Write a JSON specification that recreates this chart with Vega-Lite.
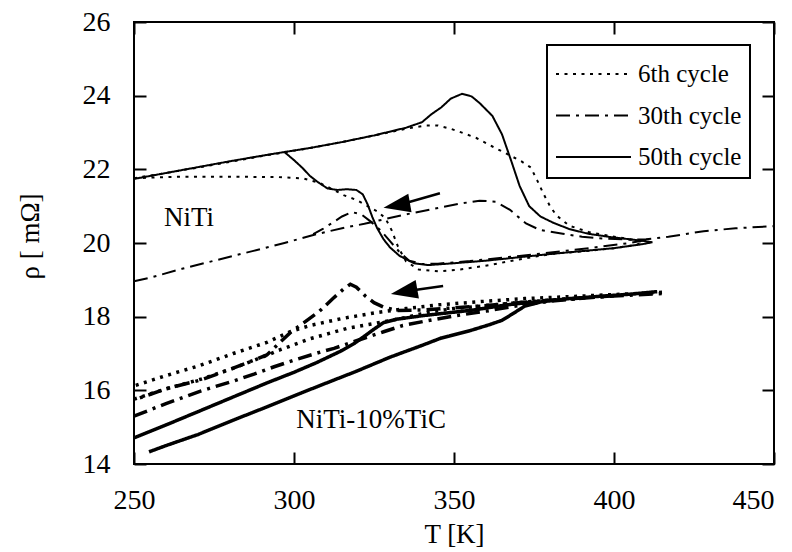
{
  "$schema": "https://vega.github.io/schema/vega-lite/v6.json",
  "autosize": {"type": "none"},
  "width": 640,
  "height": 442,
  "padding": {"left": 134, "top": 22, "right": 18, "bottom": 88},
  "background": "white",
  "config": {
    "view": {"stroke": "black", "strokeWidth": 2},
    "font": "Liberation Serif",
    "axis": {"grid": false, "domain": false, "tickColor": "black", "tickWidth": 2, "labelColor": "black", "titleColor": "black", "labelFont": "Liberation Serif", "titleFont": "Liberation Serif", "titleFontWeight": "normal", "labelFlush": false, "labelOverlap": false},
    "legend": {"strokeWidth": 2, "labelFont": "Liberation Serif"}
  },
  "datasets": {
    "curves": [
      {"s":"NiTi","c":"50th cycle","b":"a","i":1,"T":250,"r":21.74},{"s":"NiTi","c":"50th cycle","b":"a","i":2,"T":260,"r":21.9},{"s":"NiTi","c":"50th cycle","b":"a","i":3,"T":270,"r":22.06},{"s":"NiTi","c":"50th cycle","b":"a","i":4,"T":280,"r":22.22},{"s":"NiTi","c":"50th cycle","b":"a","i":5,"T":290,"r":22.37},{"s":"NiTi","c":"50th cycle","b":"a","i":6,"T":297,"r":22.47},{"s":"NiTi","c":"50th cycle","b":"a","i":7,"T":305,"r":22.58},{"s":"NiTi","c":"50th cycle","b":"a","i":8,"T":315,"r":22.74},{"s":"NiTi","c":"50th cycle","b":"a","i":9,"T":325,"r":22.92},{"s":"NiTi","c":"50th cycle","b":"a","i":10,"T":335,"r":23.13},{"s":"NiTi","c":"50th cycle","b":"a","i":11,"T":340,"r":23.28},{"s":"NiTi","c":"50th cycle","b":"a","i":12,"T":343,"r":23.5},{"s":"NiTi","c":"50th cycle","b":"a","i":13,"T":346,"r":23.68},{"s":"NiTi","c":"50th cycle","b":"a","i":14,"T":349,"r":23.92},{"s":"NiTi","c":"50th cycle","b":"a","i":15,"T":352.5,"r":24.05},{"s":"NiTi","c":"50th cycle","b":"a","i":16,"T":355.5,"r":23.98},{"s":"NiTi","c":"50th cycle","b":"a","i":17,"T":358,"r":23.8},{"s":"NiTi","c":"50th cycle","b":"a","i":18,"T":362,"r":23.45},{"s":"NiTi","c":"50th cycle","b":"a","i":19,"T":365,"r":22.95},{"s":"NiTi","c":"50th cycle","b":"a","i":20,"T":368,"r":22.2},{"s":"NiTi","c":"50th cycle","b":"a","i":21,"T":370.5,"r":21.55},{"s":"NiTi","c":"50th cycle","b":"a","i":22,"T":373.5,"r":21.0},{"s":"NiTi","c":"50th cycle","b":"a","i":23,"T":377,"r":20.72},{"s":"NiTi","c":"50th cycle","b":"a","i":24,"T":381,"r":20.55},{"s":"NiTi","c":"50th cycle","b":"a","i":25,"T":386,"r":20.38},{"s":"NiTi","c":"50th cycle","b":"a","i":26,"T":392,"r":20.25},{"s":"NiTi","c":"50th cycle","b":"a","i":27,"T":399,"r":20.16},{"s":"NiTi","c":"50th cycle","b":"a","i":28,"T":405,"r":20.1},{"s":"NiTi","c":"50th cycle","b":"a","i":29,"T":409,"r":20.06},{"s":"NiTi","c":"50th cycle","b":"a","i":30,"T":412,"r":20.02},{"s":"NiTi","c":"50th cycle","b":"a","i":31,"T":409,"r":19.97},{"s":"NiTi","c":"50th cycle","b":"a","i":32,"T":400,"r":19.86},{"s":"NiTi","c":"50th cycle","b":"a","i":33,"T":390,"r":19.78},{"s":"NiTi","c":"50th cycle","b":"a","i":34,"T":380,"r":19.7},{"s":"NiTi","c":"50th cycle","b":"a","i":35,"T":370,"r":19.61},{"s":"NiTi","c":"50th cycle","b":"a","i":36,"T":360,"r":19.52},{"s":"NiTi","c":"50th cycle","b":"a","i":37,"T":350,"r":19.45},{"s":"NiTi","c":"50th cycle","b":"a","i":38,"T":342,"r":19.4},{"s":"NiTi","c":"50th cycle","b":"a","i":39,"T":337.5,"r":19.45},{"s":"NiTi","c":"50th cycle","b":"a","i":40,"T":333,"r":19.65},{"s":"NiTi","c":"50th cycle","b":"a","i":41,"T":330,"r":19.88},{"s":"NiTi","c":"50th cycle","b":"a","i":42,"T":328,"r":20.1},{"s":"NiTi","c":"50th cycle","b":"a","i":43,"T":326,"r":20.4},{"s":"NiTi","c":"50th cycle","b":"a","i":44,"T":324.5,"r":20.7},{"s":"NiTi","c":"50th cycle","b":"a","i":45,"T":323,"r":21.05},{"s":"NiTi","c":"50th cycle","b":"a","i":46,"T":321.5,"r":21.32},{"s":"NiTi","c":"50th cycle","b":"a","i":47,"T":319.5,"r":21.44},{"s":"NiTi","c":"50th cycle","b":"a","i":48,"T":316.5,"r":21.46},{"s":"NiTi","c":"50th cycle","b":"a","i":49,"T":313.5,"r":21.44},{"s":"NiTi","c":"50th cycle","b":"a","i":50,"T":310.5,"r":21.48},{"s":"NiTi","c":"50th cycle","b":"a","i":51,"T":307.5,"r":21.65},{"s":"NiTi","c":"50th cycle","b":"a","i":52,"T":305,"r":21.82},{"s":"NiTi","c":"50th cycle","b":"a","i":53,"T":302.5,"r":22.05},{"s":"NiTi","c":"50th cycle","b":"a","i":54,"T":300,"r":22.25},{"s":"NiTi","c":"50th cycle","b":"a","i":55,"T":297,"r":22.47},

      {"s":"NiTi","c":"6th cycle","b":"a","i":1,"T":250,"r":21.76},{"s":"NiTi","c":"6th cycle","b":"a","i":2,"T":260,"r":21.9},{"s":"NiTi","c":"6th cycle","b":"a","i":3,"T":270,"r":22.05},{"s":"NiTi","c":"6th cycle","b":"a","i":4,"T":280,"r":22.2},{"s":"NiTi","c":"6th cycle","b":"a","i":5,"T":290,"r":22.36},{"s":"NiTi","c":"6th cycle","b":"a","i":6,"T":297,"r":22.46},{"s":"NiTi","c":"6th cycle","b":"a","i":7,"T":305,"r":22.58},{"s":"NiTi","c":"6th cycle","b":"a","i":8,"T":315,"r":22.74},{"s":"NiTi","c":"6th cycle","b":"a","i":9,"T":325,"r":22.92},{"s":"NiTi","c":"6th cycle","b":"a","i":10,"T":335,"r":23.1},{"s":"NiTi","c":"6th cycle","b":"a","i":11,"T":341,"r":23.19},{"s":"NiTi","c":"6th cycle","b":"a","i":12,"T":345,"r":23.19},{"s":"NiTi","c":"6th cycle","b":"a","i":13,"T":349,"r":23.1},{"s":"NiTi","c":"6th cycle","b":"a","i":14,"T":353,"r":22.98},{"s":"NiTi","c":"6th cycle","b":"a","i":15,"T":357,"r":22.85},{"s":"NiTi","c":"6th cycle","b":"a","i":16,"T":362,"r":22.62},{"s":"NiTi","c":"6th cycle","b":"a","i":17,"T":367,"r":22.4},{"s":"NiTi","c":"6th cycle","b":"a","i":18,"T":371,"r":22.22},{"s":"NiTi","c":"6th cycle","b":"a","i":19,"T":374,"r":22.05},{"s":"NiTi","c":"6th cycle","b":"a","i":20,"T":376,"r":21.7},{"s":"NiTi","c":"6th cycle","b":"a","i":21,"T":378,"r":21.33},{"s":"NiTi","c":"6th cycle","b":"a","i":22,"T":380,"r":21.0},{"s":"NiTi","c":"6th cycle","b":"a","i":23,"T":382,"r":20.75},{"s":"NiTi","c":"6th cycle","b":"a","i":24,"T":386,"r":20.47},{"s":"NiTi","c":"6th cycle","b":"a","i":25,"T":392,"r":20.3},{"s":"NiTi","c":"6th cycle","b":"a","i":26,"T":398,"r":20.2},{"s":"NiTi","c":"6th cycle","b":"a","i":27,"T":404,"r":20.12},{"s":"NiTi","c":"6th cycle","b":"a","i":28,"T":409,"r":20.03},{"s":"NiTi","c":"6th cycle","b":"a","i":29,"T":407,"r":19.95},{"s":"NiTi","c":"6th cycle","b":"a","i":30,"T":400,"r":19.86},{"s":"NiTi","c":"6th cycle","b":"a","i":31,"T":390,"r":19.77},{"s":"NiTi","c":"6th cycle","b":"a","i":32,"T":381,"r":19.71},{"s":"NiTi","c":"6th cycle","b":"a","i":33,"T":370,"r":19.55},{"s":"NiTi","c":"6th cycle","b":"a","i":34,"T":361,"r":19.4},{"s":"NiTi","c":"6th cycle","b":"a","i":35,"T":352,"r":19.28},{"s":"NiTi","c":"6th cycle","b":"a","i":36,"T":345,"r":19.23},{"s":"NiTi","c":"6th cycle","b":"a","i":37,"T":339,"r":19.28},{"s":"NiTi","c":"6th cycle","b":"a","i":38,"T":335,"r":19.5},{"s":"NiTi","c":"6th cycle","b":"a","i":39,"T":332.5,"r":19.9},{"s":"NiTi","c":"6th cycle","b":"a","i":40,"T":330.5,"r":20.35},{"s":"NiTi","c":"6th cycle","b":"a","i":41,"T":328.5,"r":20.68},{"s":"NiTi","c":"6th cycle","b":"a","i":42,"T":326,"r":20.86},{"s":"NiTi","c":"6th cycle","b":"a","i":43,"T":323,"r":21.0},{"s":"NiTi","c":"6th cycle","b":"a","i":44,"T":319.5,"r":21.17},{"s":"NiTi","c":"6th cycle","b":"a","i":45,"T":315.5,"r":21.3},{"s":"NiTi","c":"6th cycle","b":"a","i":46,"T":312.5,"r":21.44},{"s":"NiTi","c":"6th cycle","b":"a","i":47,"T":308,"r":21.63},{"s":"NiTi","c":"6th cycle","b":"a","i":48,"T":303,"r":21.75},{"s":"NiTi","c":"6th cycle","b":"a","i":49,"T":295,"r":21.79},{"s":"NiTi","c":"6th cycle","b":"a","i":50,"T":280,"r":21.8},{"s":"NiTi","c":"6th cycle","b":"a","i":51,"T":265,"r":21.8},{"s":"NiTi","c":"6th cycle","b":"a","i":52,"T":257,"r":21.78},{"s":"NiTi","c":"6th cycle","b":"a","i":53,"T":250,"r":21.76},

      {"s":"NiTi","c":"30th cycle","b":"h","i":1,"T":250,"r":18.96},{"s":"NiTi","c":"30th cycle","b":"h","i":2,"T":256,"r":19.08},{"s":"NiTi","c":"30th cycle","b":"h","i":3,"T":265,"r":19.3},{"s":"NiTi","c":"30th cycle","b":"h","i":4,"T":276,"r":19.54},{"s":"NiTi","c":"30th cycle","b":"h","i":5,"T":287,"r":19.78},{"s":"NiTi","c":"30th cycle","b":"h","i":6,"T":297,"r":20.0},{"s":"NiTi","c":"30th cycle","b":"h","i":7,"T":307,"r":20.24},{"s":"NiTi","c":"30th cycle","b":"h","i":8,"T":316,"r":20.42},{"s":"NiTi","c":"30th cycle","b":"h","i":9,"T":322,"r":20.52},{"s":"NiTi","c":"30th cycle","b":"h","i":10,"T":334,"r":20.76},{"s":"NiTi","c":"30th cycle","b":"h","i":11,"T":345,"r":20.95},{"s":"NiTi","c":"30th cycle","b":"h","i":12,"T":352,"r":21.07},{"s":"NiTi","c":"30th cycle","b":"h","i":13,"T":358,"r":21.15},{"s":"NiTi","c":"30th cycle","b":"h","i":14,"T":363,"r":21.12},{"s":"NiTi","c":"30th cycle","b":"h","i":15,"T":367.5,"r":20.9},{"s":"NiTi","c":"30th cycle","b":"h","i":16,"T":372.5,"r":20.53},{"s":"NiTi","c":"30th cycle","b":"h","i":17,"T":377,"r":20.35},{"s":"NiTi","c":"30th cycle","b":"h","i":18,"T":384,"r":20.25},{"s":"NiTi","c":"30th cycle","b":"h","i":19,"T":390,"r":20.17},{"s":"NiTi","c":"30th cycle","b":"h","i":20,"T":397,"r":20.12},{"s":"NiTi","c":"30th cycle","b":"h","i":21,"T":405,"r":20.09},{"s":"NiTi","c":"30th cycle","b":"h","i":22,"T":410,"r":20.1},{"s":"NiTi","c":"30th cycle","b":"h","i":23,"T":417,"r":20.17},{"s":"NiTi","c":"30th cycle","b":"h","i":24,"T":428,"r":20.32},{"s":"NiTi","c":"30th cycle","b":"h","i":25,"T":438,"r":20.4},{"s":"NiTi","c":"30th cycle","b":"h","i":26,"T":450,"r":20.46},
      {"s":"NiTi","c":"30th cycle","b":"k","i":1,"T":410,"r":20.08},{"s":"NiTi","c":"30th cycle","b":"k","i":2,"T":405,"r":20.0},{"s":"NiTi","c":"30th cycle","b":"k","i":3,"T":395,"r":19.89},{"s":"NiTi","c":"30th cycle","b":"k","i":4,"T":385,"r":19.79},{"s":"NiTi","c":"30th cycle","b":"k","i":5,"T":375,"r":19.69},{"s":"NiTi","c":"30th cycle","b":"k","i":6,"T":365,"r":19.6},{"s":"NiTi","c":"30th cycle","b":"k","i":7,"T":355,"r":19.51},{"s":"NiTi","c":"30th cycle","b":"k","i":8,"T":345,"r":19.44},{"s":"NiTi","c":"30th cycle","b":"k","i":9,"T":340,"r":19.43},{"s":"NiTi","c":"30th cycle","b":"k","i":10,"T":336,"r":19.52},{"s":"NiTi","c":"30th cycle","b":"k","i":11,"T":333,"r":19.75},{"s":"NiTi","c":"30th cycle","b":"k","i":12,"T":330,"r":20.05},{"s":"NiTi","c":"30th cycle","b":"k","i":13,"T":327,"r":20.35},{"s":"NiTi","c":"30th cycle","b":"k","i":14,"T":324,"r":20.58},{"s":"NiTi","c":"30th cycle","b":"k","i":15,"T":321,"r":20.78},{"s":"NiTi","c":"30th cycle","b":"k","i":16,"T":318,"r":20.84},{"s":"NiTi","c":"30th cycle","b":"k","i":17,"T":315,"r":20.72},{"s":"NiTi","c":"30th cycle","b":"k","i":18,"T":312,"r":20.55},{"s":"NiTi","c":"30th cycle","b":"k","i":19,"T":309,"r":20.38},{"s":"NiTi","c":"30th cycle","b":"k","i":20,"T":306,"r":20.24},

      {"s":"TiC","c":"50th cycle","b":"h","i":1,"T":254.7,"r":14.33},{"s":"TiC","c":"50th cycle","b":"h","i":2,"T":260,"r":14.5},{"s":"TiC","c":"50th cycle","b":"h","i":3,"T":270,"r":14.8},{"s":"TiC","c":"50th cycle","b":"h","i":4,"T":281,"r":15.19},{"s":"TiC","c":"50th cycle","b":"h","i":5,"T":291.5,"r":15.55},{"s":"TiC","c":"50th cycle","b":"h","i":6,"T":302,"r":15.92},{"s":"TiC","c":"50th cycle","b":"h","i":7,"T":312.5,"r":16.28},{"s":"TiC","c":"50th cycle","b":"h","i":8,"T":319,"r":16.5},{"s":"TiC","c":"50th cycle","b":"h","i":9,"T":330,"r":16.9},{"s":"TiC","c":"50th cycle","b":"h","i":10,"T":340,"r":17.22},{"s":"TiC","c":"50th cycle","b":"h","i":11,"T":346,"r":17.42},{"s":"TiC","c":"50th cycle","b":"h","i":12,"T":355,"r":17.62},{"s":"TiC","c":"50th cycle","b":"h","i":13,"T":361,"r":17.78},{"s":"TiC","c":"50th cycle","b":"h","i":14,"T":365,"r":17.9},{"s":"TiC","c":"50th cycle","b":"h","i":15,"T":368,"r":18.06},{"s":"TiC","c":"50th cycle","b":"h","i":16,"T":372,"r":18.28},{"s":"TiC","c":"50th cycle","b":"h","i":17,"T":377,"r":18.4},{"s":"TiC","c":"50th cycle","b":"h","i":18,"T":386,"r":18.49},{"s":"TiC","c":"50th cycle","b":"h","i":19,"T":395,"r":18.55},{"s":"TiC","c":"50th cycle","b":"h","i":20,"T":405,"r":18.61},{"s":"TiC","c":"50th cycle","b":"h","i":21,"T":413.5,"r":18.68},
      {"s":"TiC","c":"50th cycle","b":"k","i":1,"T":377,"r":18.42},{"s":"TiC","c":"50th cycle","b":"k","i":2,"T":366.5,"r":18.32},{"s":"TiC","c":"50th cycle","b":"k","i":3,"T":356,"r":18.18},{"s":"TiC","c":"50th cycle","b":"k","i":4,"T":340.5,"r":18.03},{"s":"TiC","c":"50th cycle","b":"k","i":5,"T":332,"r":17.93},{"s":"TiC","c":"50th cycle","b":"k","i":6,"T":328,"r":17.84},{"s":"TiC","c":"50th cycle","b":"k","i":7,"T":325,"r":17.66},{"s":"TiC","c":"50th cycle","b":"k","i":8,"T":322,"r":17.47},{"s":"TiC","c":"50th cycle","b":"k","i":9,"T":318.8,"r":17.27},{"s":"TiC","c":"50th cycle","b":"k","i":10,"T":314.5,"r":17.06},{"s":"TiC","c":"50th cycle","b":"k","i":11,"T":307,"r":16.75},{"s":"TiC","c":"50th cycle","b":"k","i":12,"T":300,"r":16.49},{"s":"TiC","c":"50th cycle","b":"k","i":13,"T":291.5,"r":16.2},{"s":"TiC","c":"50th cycle","b":"k","i":14,"T":281,"r":15.82},{"s":"TiC","c":"50th cycle","b":"k","i":15,"T":270.8,"r":15.45},{"s":"TiC","c":"50th cycle","b":"k","i":16,"T":260,"r":15.06},{"s":"TiC","c":"50th cycle","b":"k","i":17,"T":250,"r":14.71},

      {"s":"TiC","c":"6th cycle","b":"h","i":1,"T":250,"r":15.76},{"s":"TiC","c":"6th cycle","b":"h","i":2,"T":260,"r":16.04},{"s":"TiC","c":"6th cycle","b":"h","i":3,"T":270.8,"r":16.3},{"s":"TiC","c":"6th cycle","b":"h","i":4,"T":281,"r":16.6},{"s":"TiC","c":"6th cycle","b":"h","i":5,"T":291.5,"r":16.95},{"s":"TiC","c":"6th cycle","b":"h","i":6,"T":295,"r":17.08},{"s":"TiC","c":"6th cycle","b":"h","i":7,"T":305,"r":17.4},{"s":"TiC","c":"6th cycle","b":"h","i":8,"T":316.5,"r":17.68},{"s":"TiC","c":"6th cycle","b":"h","i":9,"T":328,"r":17.86},{"s":"TiC","c":"6th cycle","b":"h","i":10,"T":335,"r":17.98},{"s":"TiC","c":"6th cycle","b":"h","i":11,"T":342,"r":18.12},{"s":"TiC","c":"6th cycle","b":"h","i":12,"T":350,"r":18.22},{"s":"TiC","c":"6th cycle","b":"h","i":13,"T":360,"r":18.3},{"s":"TiC","c":"6th cycle","b":"h","i":14,"T":370,"r":18.38},{"s":"TiC","c":"6th cycle","b":"h","i":15,"T":380,"r":18.45},{"s":"TiC","c":"6th cycle","b":"h","i":16,"T":390,"r":18.5},
      {"s":"TiC","c":"6th cycle","b":"k","i":1,"T":415,"r":18.66},{"s":"TiC","c":"6th cycle","b":"k","i":2,"T":400,"r":18.6},{"s":"TiC","c":"6th cycle","b":"k","i":3,"T":385,"r":18.54},{"s":"TiC","c":"6th cycle","b":"k","i":4,"T":372,"r":18.49},{"s":"TiC","c":"6th cycle","b":"k","i":5,"T":360,"r":18.42},{"s":"TiC","c":"6th cycle","b":"k","i":6,"T":345,"r":18.32},{"s":"TiC","c":"6th cycle","b":"k","i":7,"T":335,"r":18.22},{"s":"TiC","c":"6th cycle","b":"k","i":8,"T":325,"r":18.1},{"s":"TiC","c":"6th cycle","b":"k","i":9,"T":315,"r":17.95},{"s":"TiC","c":"6th cycle","b":"k","i":10,"T":305,"r":17.76},{"s":"TiC","c":"6th cycle","b":"k","i":11,"T":299,"r":17.6},{"s":"TiC","c":"6th cycle","b":"k","i":12,"T":291.5,"r":17.3},{"s":"TiC","c":"6th cycle","b":"k","i":13,"T":281,"r":17.0},{"s":"TiC","c":"6th cycle","b":"k","i":14,"T":270.8,"r":16.68},{"s":"TiC","c":"6th cycle","b":"k","i":15,"T":260,"r":16.4},{"s":"TiC","c":"6th cycle","b":"k","i":16,"T":250,"r":16.12},

      {"s":"TiC","c":"30th cycle","b":"k","i":1,"T":400,"r":18.57},{"s":"TiC","c":"30th cycle","b":"k","i":2,"T":385,"r":18.48},{"s":"TiC","c":"30th cycle","b":"k","i":3,"T":370,"r":18.38},{"s":"TiC","c":"30th cycle","b":"k","i":4,"T":360,"r":18.3},{"s":"TiC","c":"30th cycle","b":"k","i":5,"T":350,"r":18.24},{"s":"TiC","c":"30th cycle","b":"k","i":6,"T":340,"r":18.18},{"s":"TiC","c":"30th cycle","b":"k","i":7,"T":332,"r":18.17},{"s":"TiC","c":"30th cycle","b":"k","i":8,"T":328,"r":18.26},{"s":"TiC","c":"30th cycle","b":"k","i":9,"T":325,"r":18.38},{"s":"TiC","c":"30th cycle","b":"k","i":10,"T":322.3,"r":18.56},{"s":"TiC","c":"30th cycle","b":"k","i":11,"T":319.5,"r":18.8},{"s":"TiC","c":"30th cycle","b":"k","i":12,"T":317.6,"r":18.88},{"s":"TiC","c":"30th cycle","b":"k","i":13,"T":315.5,"r":18.75},{"s":"TiC","c":"30th cycle","b":"k","i":14,"T":312,"r":18.48},{"s":"TiC","c":"30th cycle","b":"k","i":15,"T":308,"r":18.15},{"s":"TiC","c":"30th cycle","b":"k","i":16,"T":303,"r":17.83},{"s":"TiC","c":"30th cycle","b":"k","i":17,"T":299,"r":17.58},{"s":"TiC","c":"30th cycle","b":"k","i":18,"T":295,"r":17.25},{"s":"TiC","c":"30th cycle","b":"k","i":19,"T":291.5,"r":16.96},{"s":"TiC","c":"30th cycle","b":"k","i":20,"T":281,"r":16.6},{"s":"TiC","c":"30th cycle","b":"k","i":21,"T":270.8,"r":16.28},{"s":"TiC","c":"30th cycle","b":"k","i":22,"T":260.4,"r":16.05},{"s":"TiC","c":"30th cycle","b":"k","i":23,"T":250,"r":15.74},
      {"s":"TiC","c":"30th cycle","b":"h","i":1,"T":250,"r":15.3},{"s":"TiC","c":"30th cycle","b":"h","i":2,"T":260,"r":15.64},{"s":"TiC","c":"30th cycle","b":"h","i":3,"T":270.8,"r":15.98},{"s":"TiC","c":"30th cycle","b":"h","i":4,"T":281,"r":16.25},{"s":"TiC","c":"30th cycle","b":"h","i":5,"T":287.5,"r":16.44},{"s":"TiC","c":"30th cycle","b":"h","i":6,"T":293.8,"r":16.64},{"s":"TiC","c":"30th cycle","b":"h","i":7,"T":300,"r":16.82},{"s":"TiC","c":"30th cycle","b":"h","i":8,"T":308.3,"r":17.04},{"s":"TiC","c":"30th cycle","b":"h","i":9,"T":312.5,"r":17.14},{"s":"TiC","c":"30th cycle","b":"h","i":10,"T":320,"r":17.36},{"s":"TiC","c":"30th cycle","b":"h","i":11,"T":328,"r":17.59},{"s":"TiC","c":"30th cycle","b":"h","i":12,"T":334,"r":17.76},{"s":"TiC","c":"30th cycle","b":"h","i":13,"T":340.5,"r":17.87},{"s":"TiC","c":"30th cycle","b":"h","i":14,"T":350,"r":18.02},{"s":"TiC","c":"30th cycle","b":"h","i":15,"T":360,"r":18.15},{"s":"TiC","c":"30th cycle","b":"h","i":16,"T":370,"r":18.3},{"s":"TiC","c":"30th cycle","b":"h","i":17,"T":380,"r":18.42},{"s":"TiC","c":"30th cycle","b":"h","i":18,"T":390,"r":18.5},{"s":"TiC","c":"30th cycle","b":"h","i":19,"T":400,"r":18.56},{"s":"TiC","c":"30th cycle","b":"h","i":20,"T":415,"r":18.63}
    ],
    "labels": [
      {"label": "NiTi", "T": 267.2, "r": 20.68},
      {"label": "NiTi-10%TiC", "T": 324.1, "r": 15.19}
    ],
    "shafts": [
      {"a": 1, "i": 1, "T": 345.6, "r": 21.35},
      {"a": 1, "i": 2, "T": 333.0, "r": 21.04},
      {"a": 2, "i": 1, "T": 346.6, "r": 18.83},
      {"a": 2, "i": 2, "T": 335.0, "r": 18.69}
    ],
    "heads": [
      {"a": 1, "T": 332.1, "r": 21.02},
      {"a": 2, "T": 334.4, "r": 18.68}
    ]
  },
  "resolve": {"axis": {"x": "independent", "y": "independent"}},
  "layer": [
    {
      "data": {"name": "curves"},
      "mark": {"type": "line", "color": "black", "strokeCap": "butt"},
      "encoding": {
        "x": {"field": "T", "type": "quantitative", "scale": {"domain": [250, 450], "nice": false, "zero": false},
              "axis": {"orient": "bottom", "values": [250, 300, 350, 400, 450], "tickSize": -12, "labelPadding": 34, "labelFont": "Liberation Serif", "labelFontSize": 28,
                       "labelAlign": {"condition": {"test": "datum.value == 450", "value": "right"}, "value": "center"},
                       "title": "T [K]", "titleFont": "Liberation Serif", "titleFontSize": 27, "titleX": 320, "titleY": 70, "titleBaseline": "middle", "titleAlign": "center"}},
        "y": {"field": "r", "type": "quantitative", "scale": {"domain": [14, 26], "nice": false, "zero": false},
              "axis": {"orient": "left", "values": [14, 16, 18, 20, 22, 24, 26], "tickSize": -12, "labelPadding": 36, "labelFont": "Liberation Serif", "labelFontSize": 28,
                       "title": "ρ [ mΩ]", "titleFont": "Liberation Serif", "titleFontSize": 27, "titleX": -104, "titleY": 214, "titleAngle": 270, "titleBaseline": "middle", "titleAlign": "center"}},
        "strokeDash": {"field": "c", "type": "nominal",
          "scale": {"domain": ["6th cycle", "30th cycle", "50th cycle"], "range": [[3, 5.5], [14, 6, 3, 6], [1, 0]]},
          "legend": {"title": null, "orient": "none", "legendX": 413, "legendY": 23, "symbolType": "M-1,0H2.75", "symbolSize": 1600, "symbolStrokeWidth": 2, "symbolStrokeColor": "black", "symbolFillColor": "transparent", "labelFontSize": 25, "labelFont": "Liberation Serif", "labelColor": "black", "labelOffset": 41, "labelLimit": 0, "padding": 8, "rowPadding": 7.5, "strokeColor": "black"}},
        "strokeWidth": {"field": "s", "type": "nominal", "scale": {"domain": ["NiTi", "TiC"], "range": [2, 3.5]}, "legend": null},
        "detail": [{"field": "s"}, {"field": "b"}],
        "order": {"field": "i", "type": "quantitative"}
      }
    },
    {
      "data": {"name": "labels"},
      "mark": {"type": "text", "font": "Liberation Serif", "fontSize": 27, "color": "black", "align": "center", "baseline": "middle"},
      "encoding": {
        "x": {"field": "T", "type": "quantitative", "axis": {"orient": "top", "values": [250, 300, 350, 400, 450], "tickSize": -12, "labels": false, "title": null}},
        "y": {"field": "r", "type": "quantitative", "axis": {"orient": "right", "values": [14, 16, 18, 20, 22, 24, 26], "tickSize": -12, "labels": false, "title": null}},
        "text": {"field": "label"}
      }
    },
    {
      "data": {"name": "shafts"},
      "mark": {"type": "line", "color": "black", "strokeWidth": 2.5},
      "encoding": {
        "x": {"field": "T", "type": "quantitative", "axis": null},
        "y": {"field": "r", "type": "quantitative", "axis": null},
        "detail": {"field": "a"},
        "order": {"field": "i", "type": "quantitative"}
      }
    },
    {
      "data": {"name": "heads"},
      "mark": {"type": "point", "shape": "M-1,0L1,-0.7L1,0.7Z", "filled": true, "color": "black", "opacity": 1, "size": 720, "angle": 350},
      "encoding": {
        "x": {"field": "T", "type": "quantitative", "axis": null},
        "y": {"field": "r", "type": "quantitative", "axis": null}
      }
    }
  ]
}
